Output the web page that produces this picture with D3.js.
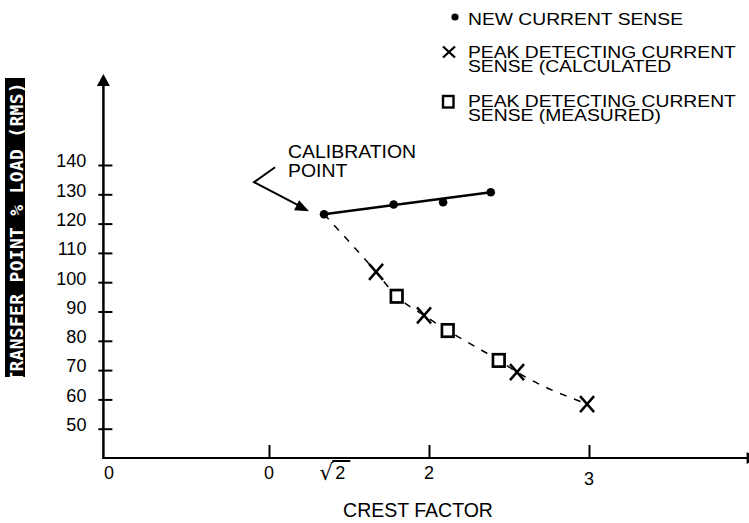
<!DOCTYPE html>
<meta charset="utf-8">
<style>
  body { margin: 0; background: #fff; }
  svg { display: block; font-family: "Liberation Sans", Arial, sans-serif; }
  .lbl { fill: #000; }
</style>
<body>
<script src="https://d3js.org/d3.v7.min.js"></script>
<script>

// new current sense (dots)
var newX = [1.344, 1.779, 2.088, 2.386];
var newY = [123.2, 126.5, 127.3, 130.7];
// peak detecting, calculated (crosses)
var calcX = [1.669, 1.969, 2.55, 2.988];
var calcY = [103.5, 88.7, 69.3, 58.4];
// peak detecting, measured (squares)
var measX = [1.798, 2.117, 2.436];
var measY = [95.2, 83.5, 73.3];

var yTicks = [50, 60, 70, 80, 90, 100, 110, 120, 130, 140];
var xTicks = [1, 2, 3];
var xLabelVals = [0, 1, 2, 3];
var xLabelText = ["0", "0", "2", "3"];

var legendText = [
  ["NEW CURRENT SENSE"],
  ["PEAK DETECTING CURRENT", "SENSE (CALCULATED"],
  ["PEAK DETECTING CURRENT", "SENSE (MEASURED)"]
];

var W = 749, H = 523;

var x = d3.scaleLinear().domain([0, 3]).range([109, 589]);
var y = d3.scaleLinear().domain([40, 140]).range([458, 165]);

var svg = d3.select("body").append("svg")
    .attr("width", W)
    .attr("height", H);

function addText(parent, str, tx, ty, size, sx, anchor) {
  return parent.append("text")
      .attr("class", "lbl")
      .attr("transform", "translate(" + tx + "," + ty + ") scale(" + sx + ",1)")
      .attr("font-size", size)
      .attr("text-anchor", anchor || "start")
      .text(str);
}

// axes lines + arrow heads
var x0 = x(-0.035), yBase = y(40);
var xTip = x(4.06), yTip = y(171.1);

svg.append("line")
    .attr("x1", x0).attr("x2", xTip - 10)
    .attr("y1", yBase).attr("y2", yBase)
    .attr("stroke", "#000").attr("stroke-width", 2);
svg.append("path")
    .attr("d", "M" + xTip + "," + yBase + "L" + (xTip - 12) + "," + (yBase - 6) + "L" + (xTip - 12) + "," + (yBase + 6) + "Z")
    .attr("fill", "#000");

svg.append("line")
    .attr("x1", x0).attr("x2", x0)
    .attr("y1", yBase + 1).attr("y2", yTip + 10)
    .attr("stroke", "#000").attr("stroke-width", 2.5);
svg.append("path")
    .attr("d", "M" + x0 + "," + yTip + "L" + (x0 - 6.5) + "," + (yTip + 12) + "L" + (x0 + 6.5) + "," + (yTip + 12) + "Z")
    .attr("fill", "#000");

// y ticks
var yAxis = svg.append("g")
    .attr("transform", "translate(" + x0 + ",0)")
    .call(d3.axisLeft(y).tickValues(yTicks).tickSize(-9).tickPadding(17));
yAxis.select(".domain").remove();
yAxis.selectAll(".tick line").attr("x1", -5).attr("stroke", "#000").attr("stroke-width", 2);
yAxis.selectAll(".tick text")
    .attr("font-family", "Liberation Sans, Arial, sans-serif")
    .attr("font-size", 18)
    .attr("fill", "#000")
    .attr("dy", "0.1em");

// x ticks (above the axis only)
var xAxis = svg.append("g")
    .attr("transform", "translate(0," + yBase + ")")
    .call(d3.axisTop(x).tickValues(xTicks).tickSize(13).tickFormat(""));
xAxis.select(".domain").remove();
xAxis.selectAll(".tick line").attr("stroke", "#000").attr("stroke-width", 2);

// x labels
xLabelVals.forEach(function(v, i) {
  addText(svg, xLabelText[i], x(v), yBase + (v === 3 ? 27 : 21), 18, 1, "middle");
});
// sqrt 2
var sx2 = x(Math.SQRT2);
svg.append("text").attr("class", "lbl")
    .attr("x", sx2 - 2).attr("y", yBase + 22)
    .attr("font-family", "DejaVu Sans, sans-serif")
    .attr("font-size", 22).attr("text-anchor", "end").text("\u221A");
addText(svg, "2", sx2 + 5, yBase + 21, 18, 1, "middle");
svg.append("line")
    .attr("x1", sx2 - 3).attr("x2", sx2 + 15)
    .attr("y1", yBase + 3).attr("y2", yBase + 3)
    .attr("stroke", "#000").attr("stroke-width", 2);

addText(svg, "CREST FACTOR", 418, 517, 19.5, 1, "middle");

// y axis title (white on black, clipped)
svg.append("clipPath").attr("id", "yclip")
  .append("rect").attr("x", 5).attr("y", 78).attr("width", 20).attr("height", 299);
var yt = svg.append("g").attr("clip-path", "url(#yclip)");
yt.append("rect").attr("x", 5).attr("y", 78).attr("width", 20).attr("height", 299).attr("fill", "#000");
yt.append("text")
    .attr("transform", "translate(22.5,82) rotate(-90)")
    .attr("text-anchor", "end")
    .attr("font-family", "DejaVu Sans Mono, monospace")
    .attr("font-weight", "bold")
    .attr("font-size", 18)
    .attr("letter-spacing", 0.3)
    .attr("fill", "#fff")
    .text("TRANSFER POINT % LOAD (RMS)");

// dashed curve through calibration point + peak detecting points
var peak = [{x: newX[0], y: newY[0]}]
  .concat(calcX.map(function(d, i) { return {x: d, y: calcY[i]}; }))
  .concat(measX.map(function(d, i) { return {x: d, y: measY[i]}; }))
  .sort(function(a, b) { return a.x - b.x; });

var line = d3.line()
    .x(function(d) { return x(d.x); })
    .y(function(d) { return y(d.y); });

svg.append("path")
    .datum(peak)
    .attr("d", line.curve(d3.curveMonotoneX))
    .attr("fill", "none")
    .attr("stroke", "#000")
    .attr("stroke-width", 1.5)
    .attr("stroke-dasharray", "7,8");

// solid line for new current sense
var last = newX.length - 1;
svg.append("path")
    .datum([{x: newX[0], y: newY[0]}, {x: newX[last], y: newY[last]}])
    .attr("d", d3.line().x(function(d) { return x(d.x); }).y(function(d) { return y(d.y); }))
    .attr("fill", "none")
    .attr("stroke", "#000")
    .attr("stroke-width", 2.5);

svg.selectAll(".dot")
    .data(newX)
  .enter().append("circle")
    .attr("cx", function(d) { return x(d); })
    .attr("cy", function(d, i) { return y(newY[i]); })
    .attr("r", 4.3)
    .attr("fill", "#000");

function cross(cx, cy, hw, hh) {
  return "M" + (cx - hw) + "," + (cy - hh) + "L" + (cx + hw) + "," + (cy + hh) +
         "M" + (cx - hw) + "," + (cy + hh) + "L" + (cx + hw) + "," + (cy - hh);
}

svg.selectAll(".cross")
    .data(calcX)
  .enter().append("path")
    .attr("d", function(d, i) { return cross(x(d), y(calcY[i]), 7, 8); })
    .attr("stroke", "#000")
    .attr("stroke-width", 2.5)
    .attr("fill", "none");

svg.selectAll(".sq")
    .data(measX)
  .enter().append("rect")
    .attr("x", function(d) { return x(d) - 5.8; })
    .attr("y", function(d, i) { return y(measY[i]) - 6.2; })
    .attr("width", 11.6)
    .attr("height", 12.4)
    .attr("fill", "#fff")
    .attr("stroke", "#000")
    .attr("stroke-width", 2.7);

// calibration point annotation
var cx0 = x(newX[0]), cy0 = y(newY[0]);
svg.append("path")
    .attr("d", "M" + (cx0 - 49) + "," + (cy0 - 47) + "L" + (cx0 - 70) + "," + (cy0 - 32) + "L" + (cx0 - 26) + "," + (cy0 - 9))
    .attr("fill", "none").attr("stroke", "#000").attr("stroke-width", 2);
svg.append("path")
    .attr("d", "M" + (cx0 - 15) + "," + (cy0 - 3) + "L" + (cx0 - 30) + "," + (cy0 - 4) + "L" + (cx0 - 25) + "," + (cy0 - 14) + "Z")
    .attr("fill", "#000");
var calib = addText(svg, "", cx0 - 36, cy0 - 56, 18, 1.08);
calib.append("tspan").attr("x", 0).attr("dy", 0).text("CALIBRATION");
calib.append("tspan").attr("x", 0).attr("dy", 19).text("POINT");

// legend
var lg = svg.append("g");
lg.append("circle").attr("cx", 455).attr("cy", 17).attr("r", 3.6).attr("fill", "#000");
lg.append("path").attr("d", cross(449, 52, 6, 5.5)).attr("stroke", "#000").attr("stroke-width", 2.3).attr("fill", "none");
lg.append("rect").attr("x", 443).attr("y", 96).attr("width", 10.5).attr("height", 11.5)
    .attr("fill", "none").attr("stroke", "#000").attr("stroke-width", 2.4);

// one text per entry, lines as tspans
var legendBase = [25, 58, 107];
legendText.forEach(function(lines, i) {
  var t = addText(lg, "", 468, legendBase[i], 16.5, 1.17);
  lines.forEach(function(s, j) {
    t.append("tspan").attr("x", 0).attr("dy", j === 0 ? 0 : 14).text(s);
  });
});

</script>
</body>
